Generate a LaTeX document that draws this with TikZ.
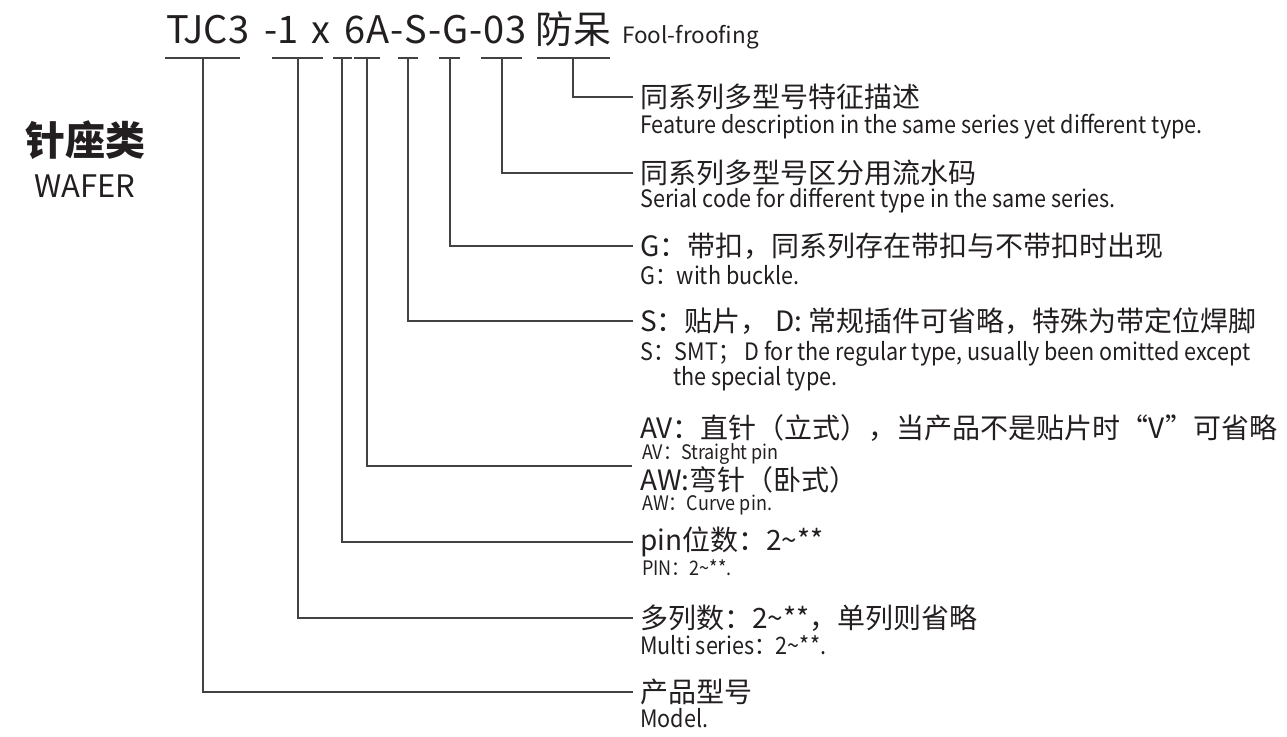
\documentclass[tikz,border=0pt]{standalone}
\usepackage{fontspec}
\setmainfont{Noto Sans CJK SC}
\newfontfamily\enfont[FakeStretch=0.9]{Noto Sans CJK SC}
\usetikzlibrary{positioning}
\definecolor{ink}{HTML}{231F20}
\newcommand{\codegap}{\kern1pt}
\tikzset{
  lead/.style={draw=ink!85, line width=1.8pt},
  cn/.style={anchor=west, inner sep=0pt, text=ink, font=\fontsize{28}{30}\selectfont},
  en/.style={anchor=west, inner sep=0pt, text=ink, font=\enfont\fontsize{24}{26}\selectfont},
  ensmall/.style={en, font=\enfont\fontsize{20}{22}\selectfont},
}

\begin{document}
\begin{tikzpicture}[x=1pt,y=-1pt]
  \useasboundingbox (0,0) rectangle (1287,736);

  % code line
  \node (code) [anchor=base west, inner sep=0pt, text=ink, font=\fontsize{38}{40}\selectfont]
        at (166,43) {TJC3\hspace{7pt} -1\kern4pt{} x\kern5pt{} 6\codegap A\codegap -\codegap S\codegap -\codegap G\codegap -\codegap 0\codegap 3 防呆};
  \node (fool) [anchor=base west, inner sep=0pt, text=ink, font=\fontsize{22.5}{24}\selectfont]
        at (622,43) {Fool-froofing};

  % family label
  \node (fam) [inner sep=0pt, text=ink, font=\bfseries\fontsize{40}{42}\selectfont] at (85,140) {针座类};
  \node (wafer) [below=15pt of fam, inner sep=0pt, text=ink, font=\fontsize{31}{32}\selectfont] {WAFER};

  % underlines
  \draw[lead] (165,58) -- (240,58);
  \draw[lead] (272,58) -- (323,58);
  \draw[lead] (333,58) -- (352,58);
  \draw[lead] (354,58) -- (380,58);
  \draw[lead] (398,58) -- (418,58);
  \draw[lead] (439,58) -- (460,58);
  \draw[lead] (481,58) -- (522,58);
  \draw[lead] (537,58) -- (610,58);
  \coordinate (u1) at (203,58);
  \coordinate (u2) at (298,58);
  \coordinate (u3) at (342,58);
  \coordinate (u4) at (367,58);
  \coordinate (u5) at (408,58);
  \coordinate (u6) at (450,58);
  \coordinate (u7) at (502,58);
  \coordinate (u8) at (573,58);

  % descriptions
  \node (c8) [cn] at (640,97) {同系列多型号特征描述};
  \node (e8) [en] at (640,127) {Feature description in the same series yet different type.};
  \node (c7) [cn] at (640,173) {同系列多型号区分用流水码};
  \node (e7) [en] at (640,201) {Serial code for different type in the same series.};
  \node (c6) [cn] at (640,246) {G：带扣，同系列存在带扣与不带扣时出现};
  \node (e6) [en] at (640,275) {G：with buckle.};
  \node (c5) [cn] at (640,321) {S：贴片， D: 常规插件可省略，特殊为带定位焊脚};
  \node (e5) [en] at (640,354) {S：SMT； D for the regular type, usually been omitted except};
  \node (e5b) [en] at (673,379) {the special type.};
  \node (c4) [cn] at (640,428) {AV：直针（立式），当产品不是贴片时“V”可省略};
  \node (e4) [ensmall] at (642,454) {AV：Straight pin};
  \node (c4b) [cn] at (640,480) {AW:弯针（卧式）};
  \node (e4b) [ensmall] at (642,505) {AW：Curve pin.};
  \coordinate (k4) at (632,466);
  \node (c3) [cn] at (640,542) {pin位数：2\textasciitilde**};
  \node (e3) [ensmall] at (642,568) {PIN：2\textasciitilde**.};
  \node (c2) [cn] at (640,618) {多列数：2\textasciitilde**，单列则省略};
  \node (e2) [en] at (640,645) {Multi series：2\textasciitilde**.};
  \node (c1) [cn] at (640,692) {产品型号};
  \node (e1) [en] at (640,718) {Model.};

  % leaders
  \draw[lead] (u1) |- ([xshift=-7pt]c1.west);
  \draw[lead] (u2) |- ([xshift=-7pt]c2.west);
  \draw[lead] (u3) |- ([xshift=-7pt]c3.west);
  \draw[lead] (u4) |- (k4);
  \draw[lead] (u5) |- ([xshift=-7pt]c5.west);
  \draw[lead] (u6) |- ([xshift=-7pt]c6.west);
  \draw[lead] (u7) |- ([xshift=-7pt]c7.west);
  \draw[lead] (u8) |- ([xshift=-7pt]c8.west);
\end{tikzpicture}
\end{document}
